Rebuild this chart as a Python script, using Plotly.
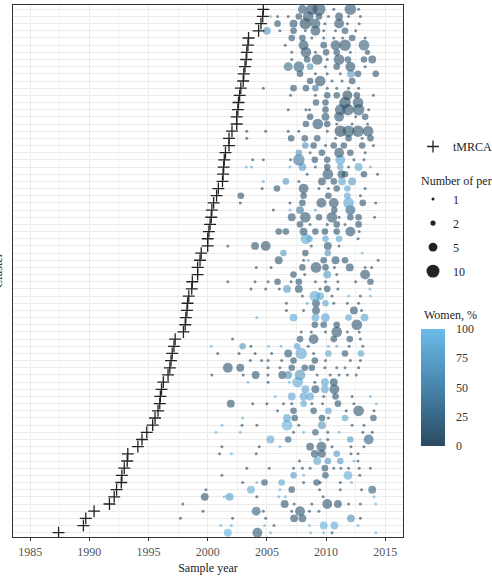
import numpy as np
import plotly.graph_objects as go

# ---------------- data ----------------
# tMRCA (estimated time of most recent common ancestor) per cluster, cluster 0 = bottom row
tmrca = [1987.4, 1989.5, 1989.7, 1990.4, 1991.7, 1992.1, 1992.3, 1992.7, 1992.75, 1992.95,
         1993.2, 1993.25, 1994.1, 1994.45, 1994.85, 1995.35, 1995.55, 1995.8, 1995.95, 1996.0,
         1996.1, 1996.25, 1996.65, 1996.8, 1996.9, 1997.0, 1997.15, 1997.25, 1997.95, 1998.1,
         1998.15, 1998.25, 1998.3, 1998.4, 1998.65, 1998.7, 1999.15, 1999.15, 1999.35, 1999.45,
         2000.0, 2000.0, 2000.1, 2000.2, 2000.3, 2000.35, 2000.5, 2000.75, 2000.9, 2001.25,
         2001.3, 2001.35, 2001.4, 2001.5, 2001.8, 2001.8, 2002.05, 2002.45, 2002.45, 2002.55,
         2002.6, 2002.7, 2002.8, 2003.0, 2003.05, 2003.15, 2003.25, 2003.3, 2003.4, 2003.45,
         2004.3, 2004.5, 2004.65, 2004.7]

# sample years per cluster
sample_year = [
    [2001.7, 2004.2, 2005.3, 2008.7, 2009.8, 2010.5, 2014.2],
    [2001.1, 2002.0, 2004.8, 2005.6, 2008.6, 2009.8, 2010.7, 2012.7],
    [1997.7, 2002.1, 2004.9, 2007.3, 2008.0, 2012.1, 2012.9],
    [1999.6, 2004.1, 2004.7, 2007.1, 2007.8, 2008.6, 2009.4],
    [1997.9, 2006.5, 2007.3, 2008.8, 2010.1, 2011.0, 2011.9, 2012.9, 2014.2],
    [1999.75, 2001.4, 2001.85, 2004.15, 2006.0, 2006.55, 2009.75, 2014.05],
    [1999.85, 2003.65, 2006.1, 2007.1, 2009.45, 2011.2, 2013.0, 2013.9],
    [2002.95, 2004.15, 2004.8, 2006.25, 2008.1, 2009.2, 2009.5, 2011.2, 2012.15],
    [2001.2, 2007.25, 2008.1, 2009.95, 2011.85, 2012.85],
    [2003.3, 2005.2, 2007.25, 2008.0, 2008.65, 2009.9, 2010.65, 2011.25, 2011.9, 2012.8, 2013.75],
    [2007.75, 2009.25, 2010.15, 2011.2, 2012.35, 2012.7],
    [2001.0, 2002.0, 2004.1, 2009.05, 2009.65, 2010.9, 2012.1, 2012.7],
    [2001.2, 2004.35, 2006.1, 2008.65, 2009.6, 2010.5, 2012.1, 2013.2],
    [2005.3, 2006.8, 2009.5, 2010.15, 2012.05, 2013.6],
    [2000.7, 2002.75, 2007.25, 2008.1, 2009.1, 2010.15, 2011.1, 2013.1, 2013.9],
    [2001.2, 2002.9, 2004.15, 2006.7, 2007.7, 2009.65, 2012.2, 2013.2],
    [2002.95, 2006.7, 2007.35, 2009.65, 2010.2, 2011.6, 2014.0],
    [2005.9, 2007.25, 2008.95, 2010.2, 2011.7, 2012.75, 2014.05],
    [2001.95, 2003.8, 2005.0, 2006.4, 2007.1, 2008.1, 2008.8, 2009.7, 2011.0, 2012.35, 2014.25],
    [2005.7, 2007.1, 2008.1, 2008.65, 2009.8, 2010.8, 2012.2, 2013.75],
    [2008.25, 2009.1, 2009.9, 2010.7],
    [2003.4, 2005.1, 2006.9, 2007.6, 2009.05, 2009.9, 2010.65],
    [2000.35, 2003.0, 2004.05, 2005.1, 2006.3, 2006.8, 2007.8, 2009.25, 2010.35, 2011.1, 2011.8, 2012.55],
    [2001.7, 2002.75, 2005.1, 2006.1, 2007.1, 2008.2, 2008.8, 2009.9, 2010.9, 2011.6, 2012.75],
    [2003.6, 2004.55, 2005.1, 2006.25, 2007.25, 2009.05, 2009.95, 2012.05, 2012.9],
    [2000.85, 2002.65, 2004.0, 2005.4, 2006.8, 2007.9, 2008.95, 2010.2, 2011.6, 2012.95],
    [2000.3, 2002.95, 2003.65, 2005.15, 2006.2, 2007.55, 2008.5, 2010.2, 2010.9, 2011.95, 2013.1],
    [2002.1, 2007.8, 2008.95, 2010.65, 2012.0, 2012.9],
    [2007.9, 2008.75, 2009.95, 2010.9, 2011.8, 2012.8],
    [2009.05, 2009.8, 2010.9, 2012.6],
    [2004.15, 2007.25, 2009.1, 2009.95, 2011.9, 2013.25],
    [2006.65, 2008.1, 2009.15, 2012.35, 2013.0],
    [2006.65, 2008.4, 2009.15, 2009.95, 2010.65, 2011.8, 2012.75],
    [2008.0, 2009.05, 2009.5, 2010.5, 2011.9, 2012.9, 2013.75],
    [2003.65, 2004.9, 2006.05, 2006.7, 2007.7, 2009.5, 2010.1, 2011.0, 2013.7],
    [2001.7, 2004.0, 2005.1, 2005.9, 2007.05, 2007.7, 2009.1, 2009.95, 2011.0, 2012.5, 2013.75],
    [2007.25, 2008.2, 2010.1, 2010.9, 2013.3],
    [2004.1, 2005.35, 2008.0, 2009.15, 2009.95, 2010.7, 2012.0, 2013.3, 2013.85],
    [2006.0, 2008.1, 2008.5, 2009.8, 2010.8, 2011.6, 2014.4],
    [2006.4, 2008.25, 2010.15, 2013.05],
    [2001.7, 2004.0, 2004.9, 2008.75, 2010.15, 2011.1],
    [2008.3, 2008.6, 2009.95, 2011.1, 2012.7],
    [2006.0, 2006.6, 2008.1, 2009.1, 2009.9, 2010.9, 2012.05, 2012.8],
    [2007.8, 2008.65, 2010.1, 2010.9, 2011.6, 2012.75],
    [2007.1, 2008.25, 2009.4, 2010.5, 2011.1, 2012.05, 2012.75, 2014.1],
    [2005.55, 2006.95, 2007.8, 2009.1, 2010.7, 2012.05],
    [2002.75, 2006.95, 2008.0, 2009.6, 2010.65, 2011.9, 2013.1, 2014.2],
    [2002.8, 2008.1, 2010.2, 2011.8, 2012.9],
    [2004.6, 2005.85, 2008.1, 2009.4, 2010.2, 2010.9, 2011.8, 2013.3],
    [2004.7, 2006.6, 2007.7, 2009.65, 2010.65, 2011.35, 2012.2],
    [2008.4, 2010.15, 2011.3, 2011.6, 2013.2, 2014.35],
    [2003.25, 2003.7, 2006.95, 2008.0, 2009.1, 2010.1, 2011.2, 2011.9, 2012.75, 2013.75],
    [2003.8, 2004.7, 2007.0, 2007.7, 2009.05, 2010.1, 2011.2, 2012.35, 2013.2],
    [2007.7, 2008.65, 2009.65, 2011.1, 2012.05, 2013.3],
    [2008.25, 2008.95, 2009.95, 2010.65, 2011.5, 2013.05, 2014.0],
    [2003.3, 2007.05, 2008.2, 2009.25, 2010.8, 2011.9, 2013.05, 2013.75],
    [2003.3, 2004.9, 2006.8, 2007.7, 2010.1, 2011.2, 2011.9, 2012.7, 2013.55],
    [2008.3, 2009.3, 2010.1, 2010.9, 2012.2, 2013.5],
    [2008.65, 2009.95, 2011.1, 2012.5, 2013.3],
    [2006.8, 2008.3, 2008.6, 2009.95, 2011.2, 2011.85, 2012.75, 2013.6],
    [2009.15, 2009.95, 2011.6, 2012.7],
    [2007.0, 2009.1, 2010.1, 2010.9, 2011.8, 2012.6, 2014.0],
    [2004.7, 2007.25, 2008.3, 2009.1, 2010.1, 2010.9, 2011.9, 2012.75],
    [2008.65, 2009.5, 2010.5, 2011.35, 2012.2],
    [2007.8, 2009.1, 2010.1, 2011.2, 2012.1, 2012.7, 2014.2],
    [2006.8, 2007.7, 2008.65, 2009.95, 2010.9, 2012.05, 2013.3],
    [2007.1, 2008.4, 2009.25, 2010.1, 2011.1, 2011.85, 2013.2, 2013.9],
    [2007.1, 2008.3, 2009.1, 2010.0, 2010.9, 2012.05, 2013.5],
    [2006.55, 2008.1, 2009.8, 2010.8, 2011.6, 2013.2],
    [2007.1, 2008.0, 2008.8, 2009.8, 2010.65, 2011.4, 2012.2, 2013.3],
    [2005.0, 2006.1, 2007.25, 2008.25, 2009.1, 2009.8, 2010.8, 2011.6, 2012.5],
    [2005.9, 2007.25, 2008.25, 2009.1, 2009.9, 2011.1, 2011.8, 2012.8],
    [2005.3, 2005.9, 2006.8, 2007.7, 2008.5, 2009.4, 2010.2, 2011.1, 2011.9, 2012.9],
    [2008.0, 2008.8, 2009.4, 2010.65, 2012.05, 2012.75],
]

# number of persons per sample point
persons = [
    [4, 6, 1, 1, 1, 1, 1],
    [1, 1, 1, 1, 1, 4, 4, 1],
    [1, 1, 1, 4, 4, 4, 1],
    [1, 5, 1, 1, 6, 1, 1],
    [1, 4, 1, 1, 6, 4, 1, 1, 1],
    [4, 1, 4, 1, 1, 1, 1, 1],
    [1, 4, 1, 3, 1, 1, 1, 4],
    [1, 1, 3, 3, 1, 3, 1, 1, 1],
    [1, 3, 1, 3, 5, 1],
    [1, 1, 1, 1, 1, 3, 1, 1, 1, 1, 1],
    [1, 4, 3, 3, 1, 1],
    [1, 1, 1, 4, 4, 3, 1, 1],
    [1, 1, 1, 4, 6, 1, 1, 1],
    [4, 3, 1, 1, 3, 6],
    [1, 1, 1, 1, 3, 1, 1, 1, 1],
    [1, 1, 1, 7, 1, 4, 1, 1],
    [1, 4, 3, 3, 1, 3, 3],
    [1, 3, 3, 3, 1, 7, 1],
    [4, 1, 1, 1, 1, 3, 1, 1, 3, 1, 1],
    [1, 4, 4, 4, 1, 3, 1, 1],
    [4, 4, 4, 6],
    [1, 1, 1, 7, 1, 4, 4],
    [1, 1, 4, 1, 4, 4, 7, 1, 1, 1, 1, 1],
    [6, 4, 1, 1, 3, 3, 3, 1, 1, 1, 1],
    [1, 1, 1, 1, 3, 3, 1, 1, 1],
    [1, 1, 1, 1, 4, 8, 1, 3, 3, 3],
    [1, 3, 1, 1, 1, 3, 1, 1, 1, 1, 1],
    [1, 3, 6, 3, 3, 1],
    [1, 1, 1, 7, 1, 1],
    [3, 3, 3, 7],
    [1, 4, 4, 5, 3, 4],
    [1, 1, 4, 4, 1],
    [1, 1, 4, 3, 1, 1, 1],
    [1, 7, 4, 1, 1, 1, 1],
    [1, 1, 1, 4, 4, 1, 3, 1, 1],
    [1, 1, 1, 3, 1, 3, 1, 1, 1, 1, 3],
    [3, 1, 4, 1, 6],
    [1, 1, 3, 7, 3, 1, 4, 1, 1],
    [4, 1, 1, 3, 4, 3, 1],
    [3, 3, 3, 1],
    [1, 4, 6, 1, 4, 1],
    [7, 3, 3, 3, 1],
    [3, 3, 4, 3, 3, 3, 6, 1],
    [3, 1, 1, 3, 1, 3],
    [4, 7, 3, 7, 1, 3, 3, 1],
    [1, 1, 4, 1, 3, 6],
    [1, 1, 3, 6, 6, 7, 3, 1],
    [3, 3, 3, 3, 1],
    [1, 3, 6, 1, 1, 3, 3, 1],
    [1, 3, 1, 4, 3, 4, 4],
    [1, 7, 4, 3, 3, 1],
    [1, 1, 1, 4, 1, 3, 3, 1, 4, 1],
    [1, 1, 1, 8, 3, 3, 6, 1, 1],
    [3, 1, 3, 6, 3, 1],
    [3, 3, 1, 3, 3, 3, 1],
    [1, 3, 3, 3, 1, 3, 1, 3],
    [1, 1, 1, 1, 1, 8, 8, 8, 7],
    [3, 7, 3, 1, 1, 1],
    [3, 4, 6, 1, 3],
    [1, 1, 1, 3, 7, 8, 8, 1],
    [3, 3, 8, 7],
    [1, 1, 3, 3, 6, 3, 1],
    [1, 3, 3, 3, 1, 1, 1, 1],
    [3, 7, 1, 1, 3],
    [3, 1, 1, 1, 4, 3, 3],
    [5, 7, 3, 1, 3, 6, 1],
    [1, 3, 7, 1, 7, 3, 3, 4],
    [1, 7, 1, 3, 3, 1, 2],
    [1, 6, 3, 6, 8, 7],
    [3, 3, 1, 1, 1, 1, 3, 1],
    [4, 1, 3, 1, 6, 1, 1, 3, 1],
    [3, 4, 8, 6, 1, 6, 1, 1],
    [1, 1, 1, 3, 7, 3, 1, 4, 1, 1],
    [5, 8, 10, 1, 8, 1],
]

# share of women (%) per sample point
women_pct = [
    [90, 10, 90, 90, 90, 0, 90],
    [90, 90, 90, 0, 90, 90, 85, 90],
    [0, 0, 0, 10, 10, 60, 0],
    [0, 20, 0, 0, 10, 0, 0],
    [0, 10, 0, 0, 10, 10, 0, 0, 90],
    [10, 90, 70, 0, 90, 90, 0, 90],
    [0, 85, 90, 10, 0, 0, 0, 20],
    [0, 90, 10, 80, 0, 10, 0, 0, 90],
    [0, 70, 90, 10, 85, 0],
    [0, 0, 0, 0, 0, 10, 0, 0, 0, 0, 0],
    [0, 80, 70, 70, 90, 0],
    [0, 90, 0, 10, 10, 70, 0, 0],
    [0, 0, 90, 10, 10, 0, 0, 0],
    [80, 20, 90, 0, 70, 20],
    [90, 90, 0, 90, 20, 0, 90, 0, 0],
    [90, 0, 0, 90, 0, 70, 0, 0],
    [90, 80, 10, 10, 0, 80, 10],
    [0, 10, 10, 80, 0, 10, 0],
    [10, 0, 0, 0, 0, 80, 0, 0, 10, 0, 90],
    [90, 80, 80, 80, 0, 10, 0, 90],
    [80, 10, 80, 10],
    [90, 0, 90, 85, 0, 80, 10],
    [0, 0, 10, 0, 10, 60, 70, 0, 0, 0, 0, 0],
    [10, 10, 0, 0, 10, 10, 10, 0, 0, 0, 0],
    [0, 0, 0, 0, 10, 10, 0, 0, 0],
    [0, 0, 0, 0, 10, 80, 0, 80, 10, 80],
    [90, 70, 0, 90, 90, 80, 0, 90, 80, 0, 0],
    [0, 10, 10, 10, 10, 0],
    [0, 0, 0, 10, 0, 0],
    [10, 10, 10, 10],
    [90, 80, 80, 80, 80, 80],
    [0, 0, 10, 10, 0],
    [0, 80, 10, 80, 0, 0, 0],
    [0, 85, 80, 0, 90, 0, 90],
    [0, 0, 0, 70, 10, 0, 10, 0, 90],
    [0, 0, 0, 10, 0, 10, 0, 0, 0, 0, 10],
    [10, 0, 70, 0, 10],
    [0, 0, 10, 10, 10, 0, 10, 0, 0],
    [10, 0, 80, 10, 10, 10, 0],
    [70, 10, 70, 90],
    [0, 10, 10, 0, 10, 0],
    [85, 85, 80, 80, 0],
    [10, 10, 10, 10, 10, 10, 10, 0],
    [10, 0, 0, 10, 0, 10],
    [10, 10, 10, 10, 0, 10, 10, 0],
    [0, 80, 40, 80, 10, 20],
    [0, 0, 10, 10, 10, 80, 10, 0],
    [10, 10, 10, 80, 0],
    [0, 10, 10, 0, 0, 10, 80, 0],
    [80, 70, 0, 10, 10, 80, 70],
    [0, 10, 10, 10, 10, 0],
    [90, 90, 90, 70, 0, 10, 80, 0, 80, 80],
    [0, 0, 0, 40, 10, 10, 80, 0, 0],
    [70, 0, 10, 10, 10, 0],
    [60, 10, 0, 10, 10, 10, 0],
    [0, 10, 10, 10, 0, 10, 0, 10],
    [0, 0, 0, 0, 0, 0, 10, 10, 10],
    [10, 10, 10, 0, 0, 0],
    [10, 10, 10, 0, 10],
    [0, 0, 0, 10, 10, 10, 10, 0],
    [10, 10, 0, 10],
    [0, 0, 10, 10, 0, 10, 0],
    [0, 10, 10, 40, 0, 0, 0, 0],
    [10, 10, 0, 0, 10],
    [10, 0, 0, 0, 70, 10, 10],
    [30, 20, 60, 0, 10, 10, 0],
    [0, 10, 10, 0, 10, 10, 10, 10],
    [0, 10, 0, 10, 10, 0, 10],
    [0, 10, 10, 10, 10, 20],
    [10, 10, 0, 0, 0, 0, 10, 0],
    [70, 0, 10, 0, 10, 0, 0, 10, 0],
    [10, 10, 0, 10, 0, 10, 0, 0],
    [90, 0, 0, 10, 10, 10, 0, 10, 0, 0],
    [10, 10, 10, 0, 10, 0],
]

size_legend_values = [1, 2, 5, 10]
x_tick_values = [1985, 1990, 1995, 2000, 2005, 2010, 2015]
colorbar_ticks = [0, 25, 50, 75, 100]

# ---------------- figure ----------------
FONT = "Liberation Serif"
W, H = 492, 579
PLOT_LEFT, PLOT_RIGHT = 13, 403
PLOT_TOP, PLOT_BOTTOM = 5, 537


def diameter(n):
    return np.sqrt(17.6 * np.asarray(n, dtype=float) - 8.6)


def paper_y(px):
    return (PLOT_BOTTOM - px) / (PLOT_BOTTOM - PLOT_TOP)


def paper_x(px):
    return (px - PLOT_LEFT) / (PLOT_RIGHT - PLOT_LEFT)


n_clusters = len(tmrca)
px_x, px_y, px_n, px_w = [], [], [], []
for k in range(n_clusters):
    px_x += sample_year[k]
    px_y += [k] * len(sample_year[k])
    px_n += persons[k]
    px_w += women_pct[k]

colorscale = [[0.0, "#2b4a61"], [0.5, "#4684ab"], [1.0, "#6cbbe8"]]

fig = go.Figure()

fig.add_trace(go.Scatter(
    x=px_x, y=px_y, mode="markers", showlegend=False, hoverinfo="skip",
    marker=dict(
        size=diameter(px_n), sizemode="diameter",
        color=px_w, cmin=0, cmax=100, colorscale=colorscale,
        opacity=0.62, line=dict(width=0),
        colorbar=dict(
            x=paper_x(421), xanchor="left",
            y=paper_y(446), yanchor="bottom",
            lenmode="pixels", len=117, thickness=24,
            outlinewidth=0, tickvals=colorbar_ticks,
            ticks="outside", ticklen=9, tickcolor="rgba(255,255,255,0)",
            tickfont=dict(family=FONT, size=12, color="#333"),
            xpad=0, ypad=0,
        ),
    ),
))

fig.add_trace(go.Scatter(
    x=tmrca, y=list(range(n_clusters)), mode="markers", name="tMRCA",
    legend="legend", hoverinfo="skip",
    marker=dict(symbol="cross-thin", size=8.5, color="#222",
                line=dict(width=1.3, color="#222")),
))

for v in size_legend_values:
    fig.add_trace(go.Scatter(
        x=[None], y=[None], mode="markers", name=str(v), legend="legend2",
        legendgroup="s" + str(v),
        marker=dict(size=float(diameter(v)), color="#222", line=dict(width=0)),
    ))

fig.update_layout(
    width=W, height=H,
    margin=dict(l=PLOT_LEFT, r=W - PLOT_RIGHT, t=PLOT_TOP, b=H - PLOT_BOTTOM, autoexpand=False),
    paper_bgcolor="white", plot_bgcolor="white",
    font=dict(family=FONT, size=12, color="#222"),
    legend=dict(xref="container", yref="container", x=413 / W, y=1 - 132 / H,
                xanchor="left", yanchor="top", font=dict(family=FONT, size=12, color="#222"),
                bgcolor="rgba(0,0,0,0)", itemsizing="trace"),
    legend2=dict(xref="container", yref="container", x=413 / W, y=1 - 169 / H,
                 xanchor="left", yanchor="top",
                 title=dict(text="\u2002Number of persons", font=dict(family=FONT, size=12, color="#222")),
                 font=dict(family=FONT, size=12, color="#222"),
                 bgcolor="rgba(0,0,0,0)", itemsizing="trace", tracegroupgap=5),
    annotations=[
        dict(text="Cluster", textangle=-90, showarrow=False,
             xref="paper", yref="paper", x=paper_x(-2), y=0.5,
             xanchor="center", yanchor="middle",
             font=dict(family=FONT, size=12, color="#222")),
        dict(text="Women, %", showarrow=False,
             xref="paper", yref="paper", x=paper_x(422), y=paper_y(315),
             xanchor="left", yanchor="middle",
             font=dict(family=FONT, size=12, color="#222")),
    ],
)

fig.update_xaxes(
    range=[1983.55, 2016.5], tickvals=x_tick_values,
    showgrid=True, gridcolor="#ebebeb", gridwidth=1,
    minor=dict(dtick=2.5, tick0=1982.5, showgrid=True, gridcolor="#f2f2f2", gridwidth=0.6),
    showline=True, linecolor="#333", linewidth=1.2, mirror=True,
    ticks="outside", ticklen=3, tickcolor="#333",
    tickfont=dict(family=FONT, size=12, color="#555"),
    title=dict(text="Sample year", font=dict(family=FONT, size=12, color="#222"), standoff=6),
    zeroline=False,
)
fig.update_yaxes(
    range=[-0.6, n_clusters - 0.4], tickvals=list(range(n_clusters)),
    showticklabels=False, ticks="",
    showgrid=True, gridcolor="#ebebeb", gridwidth=1.2,
    showline=True, linecolor="#333", linewidth=1.2, mirror=True,
    zeroline=False,
)

fig.write_html("out.html")
